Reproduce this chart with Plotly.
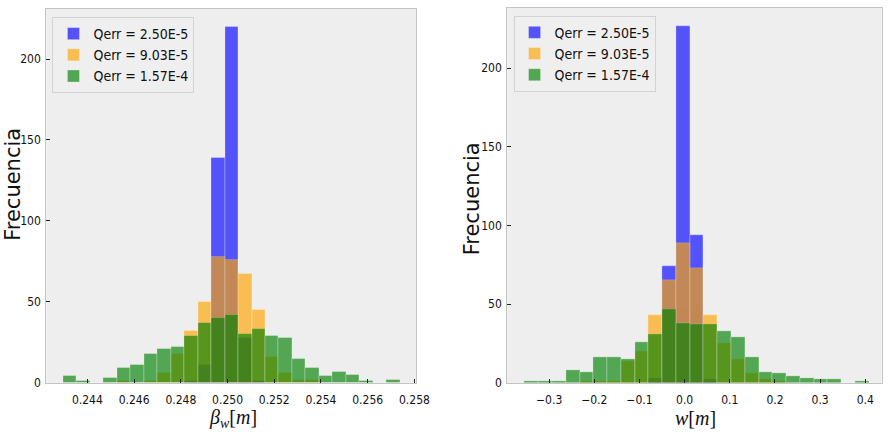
import numpy as np
import plotly.graph_objects as go

# ---------------- data ----------------
series_names = ["Qerr = 2.50E-5", "Qerr = 9.03E-5", "Qerr = 1.57E-4"]
series_colors = ["blue", "orange", "green"]

# Left panel: beta_w [m], 25 common bins
beta_bin_start = 0.242968
beta_bin_width = 0.00057648
beta_blue = [0, 0, 0, 0, 0, 0, 0, 0, 0, 1, 11, 139, 220, 28, 1, 0, 0, 0, 0, 0, 0, 0, 0, 0, 0]
beta_orange = [0, 0, 0, 0, 1, 0, 1, 6, 18, 32, 50, 78, 76, 67, 45, 16, 6, 2, 2, 0, 0, 0, 0, 0, 0]
beta_green = [4, 1, 0, 3, 9, 11, 18, 21, 22, 29, 37, 40, 42, 30, 33, 29, 28, 15, 9, 4, 7, 5, 1, 0, 2]
beta_ticks = [0.244, 0.246, 0.248, 0.250, 0.252, 0.254, 0.256, 0.258]
beta_ticklabels = ["0.244", "0.246", "0.248", "0.250", "0.252", "0.254", "0.256", "0.258"]

# Right panel: w [m], 25 common bins
w_bin_start = -0.35418
w_bin_width = 0.030488
w_blue = [0, 0, 0, 0, 0, 0, 0, 0, 0, 3, 74, 227, 94, 2, 0, 0, 0, 0, 0, 0, 0, 0, 0, 0, 0]
w_orange = [0, 0, 0, 0, 1, 1, 1, 14, 20, 43, 65, 89, 73, 43, 25, 15, 6, 2, 1, 0, 0, 0, 0, 0, 0]
w_green = [1, 1, 1, 8, 7, 16, 16, 15, 26, 31, 47, 38, 37, 37, 33, 29, 16, 7, 6, 4, 3, 2, 2, 0, 1]
w_ticks = [-0.3, -0.2, -0.1, 0.0, 0.1, 0.2, 0.3, 0.4]
w_ticklabels = ["\u22120.3", "\u22120.2", "\u22120.1", "0.0", "0.1", "0.2", "0.3", "0.4"]

y_ticks = [0, 50, 100, 150, 200]

# ---------------- figure ----------------
W, H = 896, 436
TICKFONT = dict(family="DejaVu Sans Condensed, Liberation Sans Narrow, DejaVu Sans", size=12, color="#111")
LEGFONT = dict(family="DejaVu Sans Condensed, Liberation Sans Narrow, DejaVu Sans", size=14, color="#111")

fig = go.Figure()


def add_panel(start, width, counts_list, xa, ya, legend):
    centers = start + width * (np.arange(len(counts_list[0])) + 0.5)
    for name, color, counts in zip(series_names, series_colors, counts_list):
        yv = [c if c > 0 else None for c in counts]
        fig.add_trace(go.Bar(
            x=centers, y=yv, width=width, name=name,
            marker=dict(color=color, line=dict(color="rgba(255,255,255,0.45)", width=0.6)),
            opacity=0.65, xaxis=xa, yaxis=ya, legend=legend,
        ))


add_panel(beta_bin_start, beta_bin_width, [beta_blue, beta_orange, beta_green], "x", "y", "legend")
add_panel(w_bin_start, w_bin_width, [w_blue, w_orange, w_green], "x2", "y2", "legend2")

common_axis = dict(
    showgrid=False, zeroline=False, showline=True, mirror=True,
    linecolor="#c4c4c4", linewidth=1, ticks="inside", ticklen=4,
    tickcolor="#222", tickwidth=1, tickfont=TICKFONT,
)

leg_style = dict(
    bgcolor="rgba(238,238,238,0.9)", bordercolor="#d3d3d3", borderwidth=1,
    font=LEGFONT, xanchor="left", yanchor="top", itemclick=False,
)

fig.update_layout(
    width=W, height=H, margin=dict(l=0, r=0, t=0, b=0),
    paper_bgcolor="white", plot_bgcolor="#eeeeee",
    barmode="overlay", bargap=0,
    xaxis=dict(domain=[47 / W, 423 / W], range=[0.242239, 0.258084], anchor="y",
               tickvals=beta_ticks, ticktext=beta_ticklabels, ticklabelstandoff=6,
               **common_axis),
    yaxis=dict(domain=[1 - 389 / H, 1 - 9 / H], range=[0, 231], anchor="x",
               tickvals=y_ticks, ticklabelstandoff=2, **common_axis),
    xaxis2=dict(domain=[515.3 / W, 895.5 / W], range=[-0.39277, 0.43592], anchor="y2",
                tickvals=w_ticks, ticktext=w_ticklabels, ticklabelstandoff=6,
                **common_axis),
    yaxis2=dict(domain=[1 - 389 / H, 1 - 8.3 / H], range=[0, 238.2], anchor="x2",
                tickvals=y_ticks, ticklabelstandoff=2, **common_axis),
    legend=dict(x=53.3 / W, y=1 - 17.3 / H, **leg_style),
    legend2=dict(x=521.7 / W, y=1 - 16 / H, **leg_style),
    showlegend=True,
)

LABELFONT = dict(family="DejaVu Sans", size=21, color="#111")
MATHFONT = dict(family="Liberation Serif, DejaVu Serif, serif", size=20, color="#111")

fig.add_annotation(text="Frecuencia", textangle=-90, x=13 / W, y=1 - 187 / H,
                   xref="paper", yref="paper", showarrow=False, font=LABELFONT,
                   xanchor="center", yanchor="middle")
fig.add_annotation(text="Frecuencia", textangle=-90, x=479 / W, y=1 - 202 / H,
                   xref="paper", yref="paper", showarrow=False, font=LABELFONT,
                   xanchor="center", yanchor="middle")
fig.add_annotation(text="<i>β</i><sub><i>w</i></sub>[<i>m</i>]", x=236.7 / W, y=1 - 425 / H,
                   xref="paper", yref="paper", showarrow=False, font=MATHFONT,
                   xanchor="center", yanchor="middle")
fig.add_annotation(text="<i>w</i>[<i>m</i>]", x=706.7 / W, y=1 - 425 / H,
                   xref="paper", yref="paper", showarrow=False, font=MATHFONT,
                   xanchor="center", yanchor="middle")

fig.write_html("out.html")
